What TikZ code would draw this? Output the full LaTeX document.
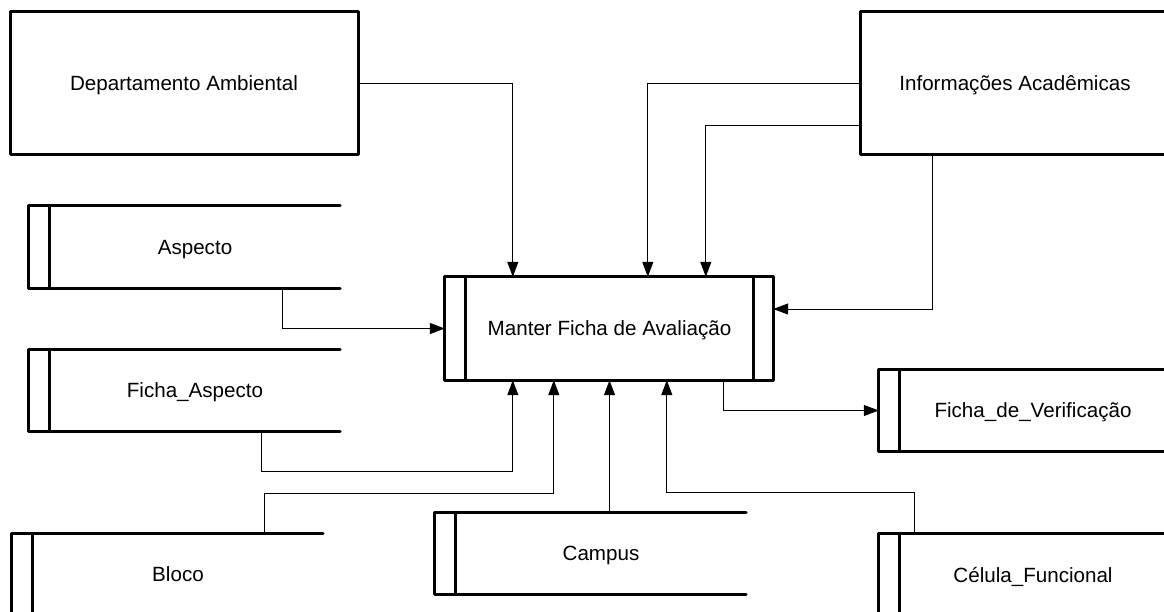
\documentclass[tikz,border=0pt]{standalone}
\usepackage{fontspec}
\setmainfont{Liberation Sans}
\usetikzlibrary{arrows.meta}

\begin{document}
\begin{tikzpicture}[x=1pt, y=-1pt,
  font=\fontsize{20.6}{24}\selectfont,
  ent/.style={draw, line width=3pt, line join=round, minimum width=348pt, minimum height=143pt, inner sep=0pt, text depth=0pt},
  store/.style={minimum width=290pt, minimum height=82pt, inner sep=0pt, text depth=0pt},
  proc/.style={minimum width=287pt, minimum height=103pt, inner sep=0pt, text depth=0pt},
  wall/.style={line width=3pt, line cap=round, line join=round},
  link/.style={-{Triangle[length=15pt, width=11pt]}, line width=1pt}]
\useasboundingbox (0,0) rectangle (1164,611);
\clip (0,0) rectangle (1164,611);
% external entities
\node[ent] (dep) at (184,83) {Departamento Ambiental};
\node[ent, minimum width=310pt] (inf) at (1015,83) {Informações Acadêmicas};
% process
\node[proc] (main) at (609.5,328.5) {Manter Ficha de Avaliação};
\draw[wall] ([xshift=-21pt]main.north west) rectangle ([xshift=20pt]main.south east);
\draw[wall] (main.north west) -- (main.south west) (main.north east) -- (main.south east);
% data stores
\node[store] (asp) at (195,247) {Aspecto};
\node[store] (fasp) at (195,390.5) {Ficha\_Aspecto};
\node[store] (blo) at (178,574.5) {Bloco};
\node[store] (cam) at (601,553.5) {Campus};
\node[store, minimum width=266pt] (fver) at (1033,410.5) {Ficha\_de\_Verificação};
\node[store, minimum width=266pt] (cel) at (1033,574.5) {Célula\_Funcional};
\foreach \s in {asp,fasp,blo,cam,cel,fver}{
  \draw[wall] (\s.north east) -- ([xshift=-21pt]\s.north west) -- ([xshift=-21pt]\s.south west) -- (\s.south east);
  \draw[wall] (\s.north west) -- (\s.south west);
}
% flows
\draw[link] (dep.east) -| ([xshift=47pt]main.north west);
\draw[link] (inf.west) -| ([xshift=182pt]main.north west);
\draw[link] ([yshift=-42pt]inf.west) -| ([xshift=240pt]main.north west);
\draw[link] ([xshift=-83pt]inf.south) |- ([xshift=20pt, yshift=19.5pt]main.east);
\draw[link] ([xshift=87pt]asp.south) |- ([xshift=-21pt]main.west);
\draw[link] ([xshift=66pt]fasp.south) -- ++(0,40) -| ([xshift=47pt]main.south west);
\draw[link] ([xshift=86pt]blo.north) -- ++(0,-40) -| ([xshift=88pt]main.south west);
\draw[link] (main.south |- cam.north) -- (main.south);
\draw[link] ([xshift=-119pt]cel.north) -- ++(0,-41) -| ([xshift=201pt]main.south west);
\draw[link] ([xshift=258pt]main.south west) |- ([xshift=-21pt]fver.west);
\end{tikzpicture}
\end{document}
